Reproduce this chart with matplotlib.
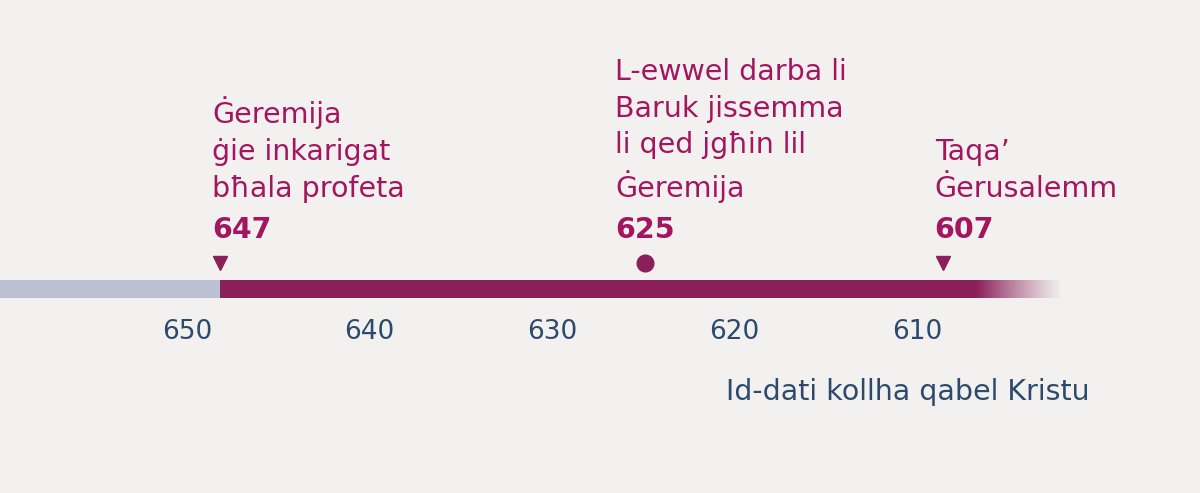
import numpy as np
import matplotlib
matplotlib.use("Agg")
import matplotlib.pyplot as plt
from matplotlib.colors import to_rgb

# data
tick_years = [650, 640, 630, 620, 610]
event_positions = [648.2, 624.9, 608.6]
event_years = ["647", "625", "607"]
event_texts = ["Ġeremija\nġie inkarigat\nbħala profeta",
               "L-ewwel darba li\nBaruk jissemma\nli qed jgħin lil\nĠeremija",
               "Taqa’\nĠerusalemm"]
event_markers = ["v", "o", "v"]
timeline_start = 660.3
history_end = 648.2
fade_start = 606.8
timeline_end = 602.2
axis_label = "Id-dati kollha qabel Kristu"

# style
label_offsets_px = [-8, -30, -8]

MAROON = "#8a1f5a"
TEXT = "#a3165f"
NAVY = "#2d4a6d"
GRAY = "#b9c1d3"
BG = "#f2f1ef"

fig = plt.figure(figsize=(12, 4.93), dpi=100, facecolor=BG)
ax = fig.add_axes([0, 0, 1, 1])
ax.set_facecolor(BG)
X0, X1 = 660.25, 594.5
ppy = 1200 / (X0 - X1)
ax.axis("off")
fam = "DejaVu Sans"

ax.fill_between([timeline_start, history_end], 280, 298, color=GRAY, lw=0)
ax.fill_between([history_end, fade_start], 280, 298, color=MAROON, lw=0)
rgb = to_rgb(MAROON)
grad = np.zeros((1, 256, 4))
grad[..., :3] = rgb
grad[..., 3] = np.linspace(1, 0.05, 256) ** 1.2
ax.imshow(grad, extent=[fade_start, timeline_end, 298, 280], aspect="auto", interpolation="bilinear")
ax.set_xlim(X0, X1)
ax.set_ylim(493, 0)

for t in tick_years:
    ax.text(t, 332, str(t), ha="center", va="center", color=NAVY, fontsize=19, family=fam)

for pos, yr, txt, m, off in zip(event_positions, event_years, event_texts, event_markers, label_offsets_px):
    ax.plot(pos, 263, marker=m, color=MAROON, markersize=12 if m == "o" else 10, mec=MAROON)
    xt = pos - off / ppy
    ax.text(xt, 238, yr, ha="left", va="baseline", color=TEXT, fontsize=20.5,
            fontweight="bold", family=fam)
    ax.text(xt, 197, txt, ha="left", va="baseline", color=TEXT, fontsize=20.5,
            family=fam, linespacing=1.4)

ax.text(1090 / ppy * -1 + X0, 392, axis_label, ha="right", va="center",
        color=NAVY, fontsize=20.5, family=fam)

fig.savefig("out.png", dpi=100, facecolor=BG)
